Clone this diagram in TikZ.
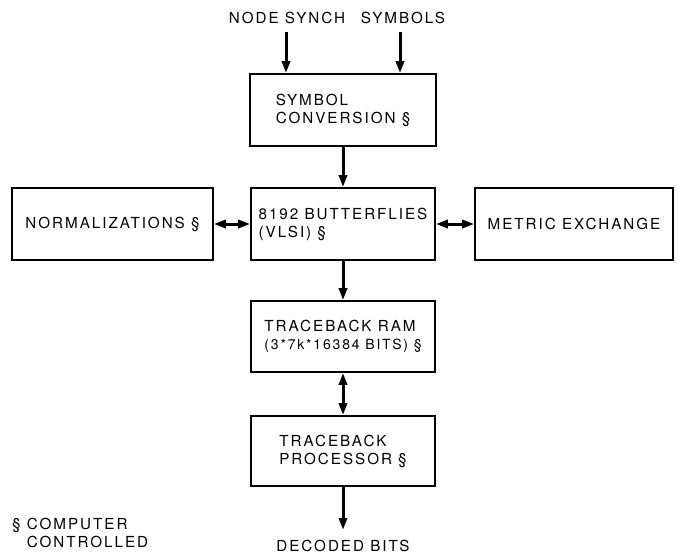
\documentclass[tikz,border=0pt]{standalone}
\usepackage{fontspec}
\setmainfont{TeX Gyre Heros}[LetterSpace=13]
\usetikzlibrary{arrows.meta}
\begin{document}
\begin{tikzpicture}[x=1pt,y=-1pt,
  txt/.style={font=\fontsize{15.2}{18}\selectfont, inner sep=0pt},
  box/.style={txt, draw, line width=1.6pt, align=left},
  tip/.tip={Triangle[length=12pt,width=8pt]},
  flow/.style={line width=3pt, -tip},
  both/.style={line width=3pt, tip-tip}]
\useasboundingbox (0,0) rectangle (678,560);

% processing blocks
\node[box, minimum width=186pt, minimum height=72pt] (conv) at (343,110)
  {SYMBOL\\CONVERSION §};
\node[box, minimum width=184pt, minimum height=72pt] (fly) at (343,224)
  {8192 BUTTERFLIES\\(VLSI) §};
\node[box, minimum width=201pt, minimum height=72pt] (norm) at (112.5,224)
  {NORMALIZATIONS §};
\node[box, minimum width=198pt, minimum height=72pt] (metric) at (574,224)
  {METRIC EXCHANGE};
\node[box, minimum width=184pt, minimum height=71pt] (ram) at (343,336.5)
  {TRACEBACK RAM\\{\fontsize{14}{17}\selectfont (3*7k*16384 BITS) §}};
\node[box, minimum width=184pt, minimum height=70pt] (proc) at (343,451)
  {TRACEBACK\\PROCESSOR §};

% inputs
\node[txt] (nslbl) at (287,18) {NODE SYNCH};
\node[txt] (symlbl) at (403,18) {SYMBOLS};
\coordinate (nsTop) at (286,32);
\coordinate (symTop) at (400,32);
\draw[flow] (nsTop) -- (nsTop |- conv.north);
\draw[flow] (symTop) -- (symTop |- conv.north);

% data path
\draw[flow] (conv.south) -- (fly.north);
\draw[both] (norm.east) -- (fly.west);
\draw[both] (fly.east) -- (metric.west);
\draw[flow] (fly.south) -- (ram.north);
\draw[both] (ram.south) -- (proc.north);

% output
\coordinate (outEnd) at (343,530);
\draw[flow] (proc.south) -- (outEnd);
\node[txt] (outlbl) at (343,546) {DECODED BITS};

% footnote
\node[txt, align=left, anchor=west] (note) at (12,534)
  {§ COMPUTER\\\phantom{§ }CONTROLLED};
\end{tikzpicture}
\end{document}
